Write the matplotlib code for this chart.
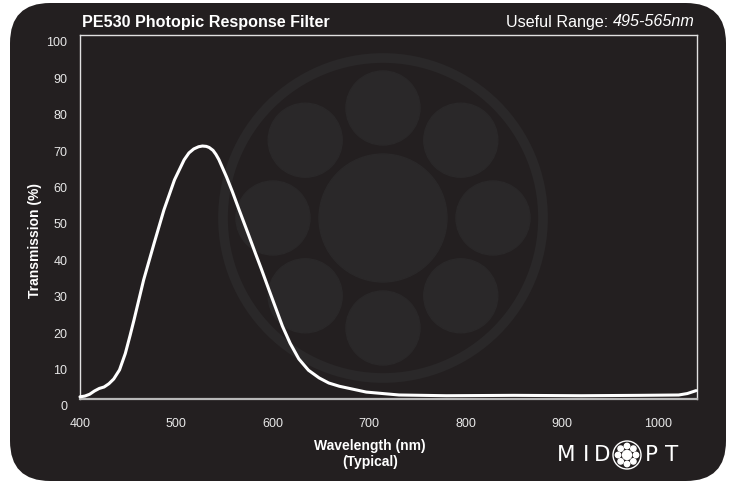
import math
import matplotlib.pyplot as plt
import matplotlib.transforms as mtrans
from matplotlib.patches import FancyBboxPatch, Circle

# curve
wavelength = [400, 405, 410, 415, 420, 425, 430, 435, 441, 447, 452, 456, 466, 477, 487,
              498, 508, 513, 518, 523, 527, 531, 534, 538, 541, 544, 547, 552, 558, 565,
              570, 575, 582, 588, 596, 603, 610, 618, 627, 637, 648, 658, 669, 697, 731,
              780, 850, 920, 980, 1021, 1030, 1039]
transmission = [0.6, 0.8, 1.3, 2.2, 2.9, 3.3, 4.2, 5.5, 8.0, 12.5, 17.5, 21.7, 32.7, 42.9, 51.9,
                60.2, 65.7, 67.6, 68.7, 69.3, 69.5, 69.4, 69.1, 68.3, 67.2, 65.8, 64.0, 61.0, 57.0, 52.0,
                48.5, 45.0, 40.0, 35.8, 30.0, 25.0, 20.0, 15.3, 11.0, 7.9, 5.8, 4.4, 3.5, 1.9, 1.1,
                0.9, 1.0, 0.9, 1.0, 1.1, 1.5, 2.3]
x_ticks = [400, 500, 600, 700, 800, 900, 1000]
y_ticks = [0, 10, 20, 30, 40, 50, 60, 70, 80, 90, 100]

bg = '#231f20'
mark = '#2a2829'
W, H = 729, 484

plt.rcParams['font.family'] = ['Liberation Sans', 'DejaVu Sans']

fig = plt.figure(figsize=(W / 100, H / 100), dpi=100)
fig.patch.set_facecolor('white')

# dark rounded card
card = FancyBboxPatch((10 / W, 3 / H), 716 / W, 478 / H,
                      boxstyle='round,pad=0,rounding_size=0.055',
                      transform=fig.transFigure, facecolor=bg, edgecolor='none',
                      mutation_aspect=W / H, zorder=-5)
fig.patches.append(card)

ax = fig.add_axes([80 / W, (H - 399) / H, 617 / W, 364 / H])
ax.set_facecolor('none')

# watermark logo behind the curve (inches from figure bottom-left)
cx, cy = 3.83, (H - 218) / 100
ax.add_artist(Circle((cx, cy), 1.60, transform=fig.dpi_scale_trans, facecolor='none',
                     edgecolor=mark, lw=7, clip_on=False, zorder=0))
ax.add_artist(Circle((cx, cy), 0.64, transform=fig.dpi_scale_trans, color=mark,
                     clip_on=False, zorder=0))
for k in range(8):
    a = math.radians(90 - 45 * k)
    ax.add_artist(Circle((cx + 1.10 * math.cos(a), cy + 1.10 * math.sin(a)), 0.37,
                         transform=fig.dpi_scale_trans, color=mark, clip_on=False, zorder=0))

ax.plot(wavelength, transmission, color='white', lw=2.2, zorder=3, clip_on=False,
        solid_capstyle='round', solid_joinstyle='round')

ax.set_xlim(400, 1040)
ax.set_ylim(0, 100)
ax.set_xticks(x_ticks)
ax.set_yticks(y_ticks)
ax.tick_params(length=0, colors='#e8e8e8', labelsize=9)
ax.tick_params(axis='y', pad=9)
ax.tick_params(axis='x', pad=14)
off = mtrans.ScaledTranslation(0, -7 / 100, fig.dpi_scale_trans)
for lab in ax.get_yticklabels():
    lab.set_transform(lab.get_transform() + off)
for side in ['left', 'top', 'right']:
    ax.spines[side].set_color('#e0e0e0')
    ax.spines[side].set_linewidth(1)
ax.spines['bottom'].set_color('#b8b8b8')
ax.spines['bottom'].set_linewidth(1.6)

fig.text(82 / W, 1 - 22 / H, 'PE530 Photopic Response Filter', color='white',
         fontsize=11.6, fontweight='bold', ha='left', va='center')
rng = fig.text(695 / W, 1 - 22 / H, '495-565nm', color='white', fontsize=11.6,
               style='italic', ha='right', va='center')
fig.add_artist(plt.Annotation('Useful Range: ', xy=(0, 0.5), xycoords=rng,
                              color='white', fontsize=11.6, ha='right', va='center'))

fig.text(35 / W, 1 - 241 / H, 'Transmission (%)', color='white', fontsize=10,
         fontweight='bold', rotation=90, ha='center', va='center')
fig.text(370 / W, 1 - 454 / H, 'Wavelength (nm)\n(Typical)', color='white',
         fontsize=10, fontweight='bold', ha='center', va='center',
         multialignment='center', linespacing=1.15)

# MIDOPT logo
ly = 1 - 455 / H
for ch, px in [('M', 566), ('I', 586), ('D', 602), ('P', 651), ('T', 672)]:
    fig.text(px / W, ly, ch, color='white', fontsize=15.5, family='DejaVu Sans',
             ha='center', va='center')
lx, lyy = 6.27, (H - 455) / 100
ax.add_artist(Circle((lx, lyy), 0.14, transform=fig.dpi_scale_trans, facecolor='none',
                     edgecolor='white', lw=1, clip_on=False))
ax.add_artist(Circle((lx, lyy), 0.045, transform=fig.dpi_scale_trans, color='white',
                     clip_on=False))
for k in range(8):
    a = math.radians(90 - 45 * k)
    ax.add_artist(Circle((lx + 0.09 * math.cos(a), lyy + 0.09 * math.sin(a)), 0.027,
                         transform=fig.dpi_scale_trans, color='white', clip_on=False))

fig.savefig('out.png', dpi=100)
